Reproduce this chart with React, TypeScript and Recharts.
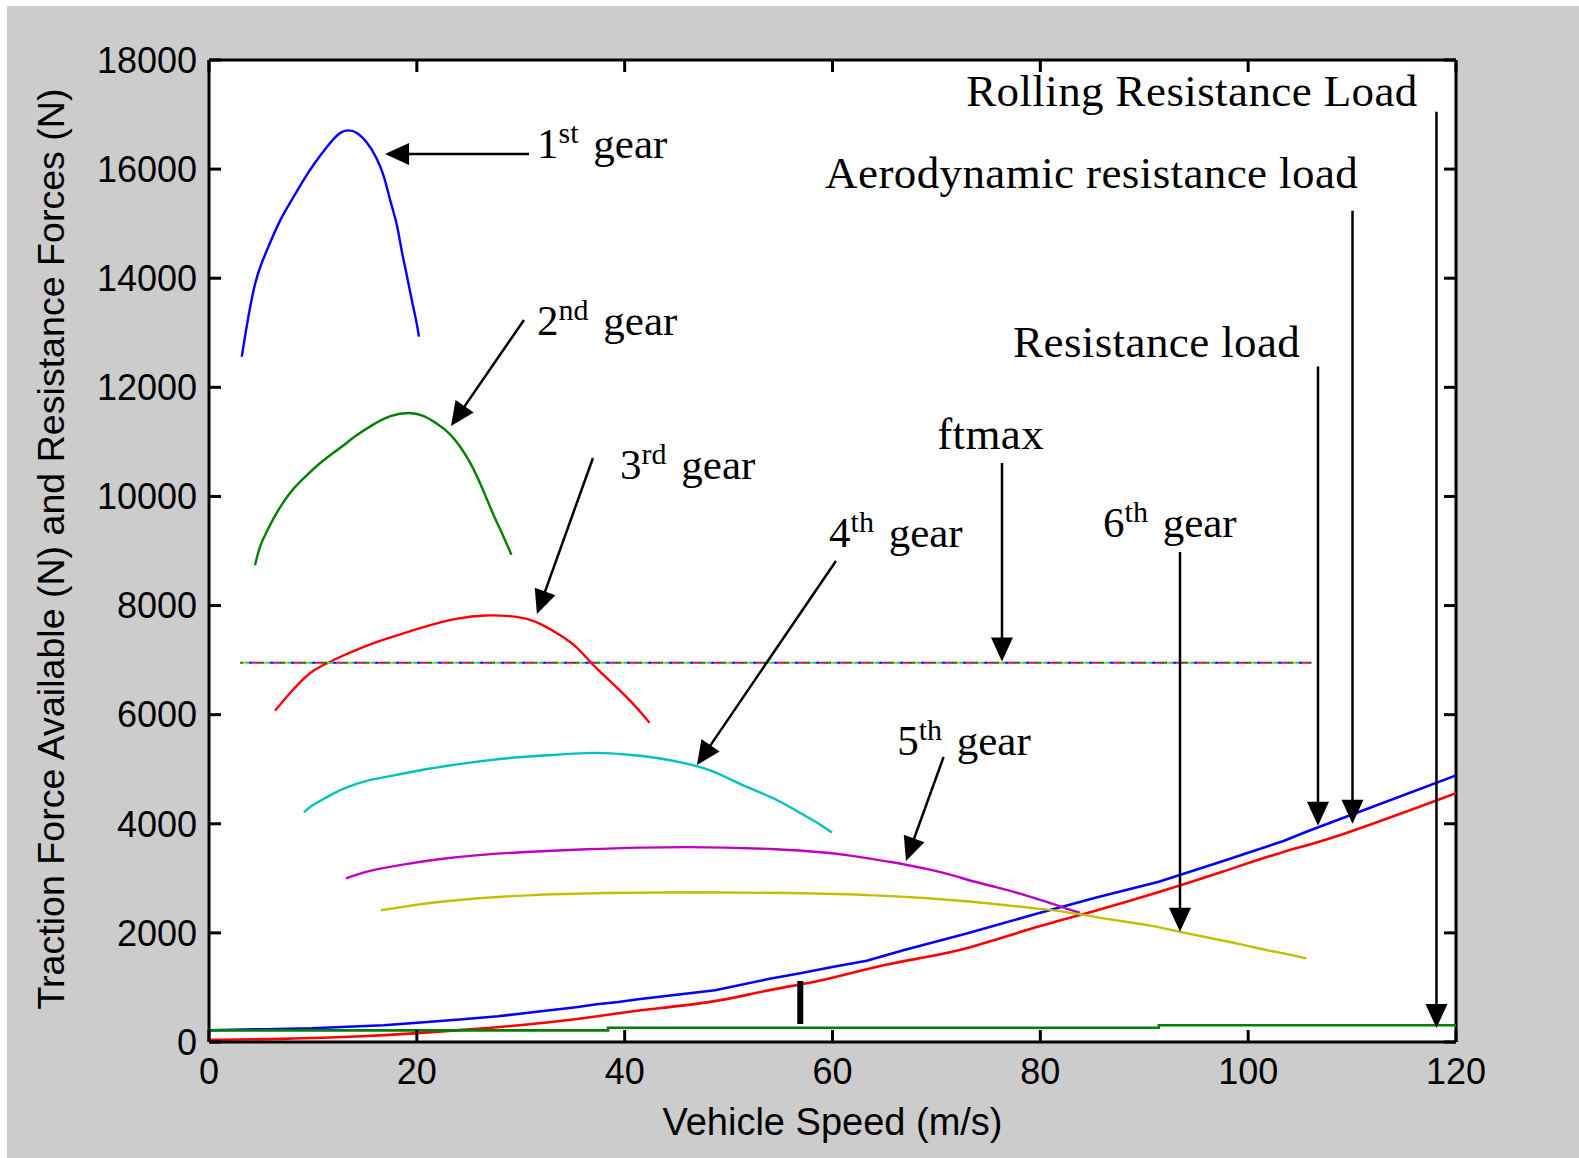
import React from 'react';
import { LineChart, Line, XAxis, YAxis, CartesianGrid, ReferenceLine, ReferenceDot } from 'recharts';

// ---------- axis ticks ----------
const xTicks = [0, 20, 40, 60, 80, 100, 120];
const yTicks = [0, 2000, 4000, 6000, 8000, 10000, 12000, 14000, 16000, 18000];

// ---------- gear traction curves (speed m/s, force N) ----------
const gear1Speed = [3.15, 3.46, 3.95, 4.43, 4.9, 5.87, 6.83, 7.8, 9.08, 10.04, 11.33, 12.6, 13.4, 14.2, 15.2, 16.1, 16.9, 17.4, 18.1, 18.5, 19.0, 19.5, 20.0, 20.2];
const gear1Force = [12560, 12930, 13480, 13910, 14210, 14650, 15070, 15380, 15800, 16080, 16410, 16690, 16720, 16690, 16500, 16230, 15860, 15430, 15010, 14520, 14100, 13600, 13180, 12930];

const gear2Speed = [4.43, 4.75, 5.07, 5.55, 6.19, 7.15, 8.11, 9.4, 11.0, 12.6, 14.2, 15.8, 17.4, 19.35, 20.6, 21.9, 23.2, 24.2, 25.1, 25.9, 26.7, 27.5, 28.3, 29.1];
const gear2Force = [8740, 8990, 9170, 9350, 9600, 9900, 10150, 10390, 10670, 10880, 11130, 11320, 11490, 11550, 11490, 11340, 11160, 10910, 10640, 10330, 9970, 9600, 9290, 8930];

const gear3Speed = [6.35, 7.48, 8.76, 10.04, 11.33, 12.6, 14.2, 15.8, 17.7, 19.7, 21.6, 23.8, 26.7, 29.0, 30.6, 32.2, 33.8, 35.4, 36.5, 37.6, 39.2, 40.8, 42.1, 42.4];
const gear3Force = [6070, 6330, 6600, 6820, 6940, 7060, 7190, 7310, 7430, 7550, 7660, 7770, 7830, 7810, 7770, 7640, 7460, 7250, 7000, 6790, 6510, 6210, 5920, 5850];

const gear4Speed = [9.14, 9.82, 11.17, 12.86, 15.2, 17.9, 21.3, 24.7, 28.7, 33.1, 37.2, 40.9, 43.2, 45.9, 48.3, 50.3, 52.4, 54.4, 56.4, 58.4, 59.95];
const gear4Force = [4210, 4330, 4470, 4650, 4800, 4890, 5020, 5110, 5210, 5260, 5320, 5260, 5210, 5110, 4990, 4800, 4620, 4470, 4250, 4040, 3840];

const gear5Speed = [13.18, 14.1, 15.9, 19.0, 20.9, 22.7, 25.8, 29.7, 35.5, 46.2, 55.5, 59.1, 61.4, 63.5, 65.4, 66.9, 69.3, 71.5, 73.6, 75.8, 77.6, 79.5, 81.3, 82.85, 83.8];
const gear5Force = [3000, 3061, 3165, 3263, 3318, 3367, 3428, 3477, 3532, 3593, 3532, 3477, 3428, 3367, 3305, 3257, 3165, 3061, 2938, 2836, 2744, 2634, 2530, 2420, 2370];

const gear6Speed = [16.55, 18.4, 20.2, 22.7, 25.8, 30.0, 38.0, 47.0, 56.0, 64.7, 69.3, 73.0, 75.8, 78.6, 81.6, 84.1, 85.9, 87.8, 90.5, 92.0, 93.6, 96.4, 99.4, 101.9, 104.3, 105.6];
const gear6Force = [2414, 2469, 2524, 2579, 2634, 2689, 2735, 2750, 2735, 2689, 2634, 2579, 2524, 2469, 2414, 2330, 2270, 2218, 2140, 2080, 2010, 1901, 1791, 1674, 1595, 1530];

// ---------- resistance loads ----------
const resSpeed = [0, 5.5, 9.9, 16.8, 20.7, 24.4, 27.8, 30.3, 32.8, 35.3, 37.3, 39.4, 41.3, 48.7, 53.7, 56.9, 60.1, 63.3, 66.9, 73.0, 79.2, 85.3, 91.4, 97.6, 103.4, 105.6, 120];
const resForce = [214, 235, 251, 306, 361, 416, 471, 526, 581, 636, 691, 733, 783, 948, 1149, 1259, 1380, 1490, 1686, 1992, 2328, 2645, 2938, 3318, 3684, 3855, 4887];

const aeroSpeed = [0, 6.5, 15.4, 20.3, 23.8, 26.9, 29.9, 32.8, 35.3, 37.4, 39.4, 41.3, 48.7, 52.4, 55.3, 58.5, 61.7, 65.2, 68.4, 73.0, 79.2, 85.3, 91.4, 97.6, 103.7, 107.5, 120];
const aeroForce = [40, 50, 104, 165, 214, 257, 306, 361, 416, 471, 526, 581, 728, 893, 1003, 1105, 1259, 1424, 1534, 1699, 2095, 2401, 2744, 3122, 3519, 3680, 4560];

const rollSpeed = [0, 38.4, 91.4, 120];
const rollForce = [214, 262, 306, 306];

const ftmaxSpeed = [3.0, 106.1];
const ftmaxForce = [6953, 6953];
const ftmaxColors = ['#008000', '#c0c000', '#00c0c0', '#0000ff', '#c000c0', '#ff0000', '#404040'];

// ---------- annotations ----------
const gearLabelNum = ['1', '2', '3', '4', '5', '6'];
const gearLabelSup = ['st', 'nd', 'rd', 'th', 'th', 'th'];
const gearLabelX = [31.57, 31.57, 39.56, 59.67, 66.22, 86.04];
const gearLabelY = [16209, 12959, 10320, 9073, 5261, 9257];

const textLabels = ['ftmax', 'Resistance load', 'Aerodynamic resistance load', 'Rolling Resistance Load'];
const textLabelX = [70.07, 77.38, 59.29, 72.86];
const textLabelY = [10870, 12565, 15645, 17157];

// arrows: tail -> tip
const arrowTailX = [30.79, 30.31, 36.95, 60.33, 70.69, 93.44, 76.31, 106.72, 110.04, 118.12];
const arrowTailY = [16277, 13234, 10705, 8817, 5224, 8982, 10613, 12382, 15238, 17052];
const arrowTipX = [16.94, 23.29, 31.56, 46.96, 67.07, 93.44, 76.31, 106.72, 110.04, 118.12];
const arrowTipY = [16277, 11291, 7845, 5077, 3318, 2022, 6973, 3965, 4001, 257];

const markBarX = 56.9;
const markBarY = [330, 1118];

const toPts = (s: number[], f: number[]) => s.map((v, i) => ({ v, f: f[i] }));

const gears = [
  { pts: toPts(gear1Speed, gear1Force), color: '#0000ff' },
  { pts: toPts(gear2Speed, gear2Force), color: '#008000' },
  { pts: toPts(gear3Speed, gear3Force), color: '#ff0000' },
  { pts: toPts(gear4Speed, gear4Force), color: '#00c0c0' },
  { pts: toPts(gear5Speed, gear5Force), color: '#c000c0' },
  { pts: toPts(gear6Speed, gear6Force), color: '#c0c000' },
];

const SERIF = '"Liberation Serif", "Times New Roman", serif';
const SANS = '"Liberation Sans", Arial, sans-serif';
const TICK_LEN = 12;

const ArrowShape = (props: any) => {
  const { x1, y1, x2, y2 } = props;
  const dx = x2 - x1;
  const dy = y2 - y1;
  const len = Math.hypot(dx, dy) || 1;
  const ux = dx / len;
  const uy = dy / len;
  const L = 24;
  const W = 11;
  const bx = x2 - ux * L;
  const by = y2 - uy * L;
  const px = -uy;
  const py = ux;
  return (
    <g>
      <line x1={x1} y1={y1} x2={bx + ux * 2} y2={by + uy * 2} stroke="#000" strokeWidth={2.5} />
      <polygon points={`${x2},${y2} ${bx + px * W},${by + py * W} ${bx - px * W},${by - py * W}`} fill="#000" />
    </g>
  );
};

const BarShape = (props: any) => {
  const { x1, y1, x2, y2 } = props;
  return <line x1={x1} y1={y1} x2={x2} y2={y2} stroke="#000" strokeWidth={6} />;
};

// inward tick at the top border for a vertical reference line
const TopTickShape = (props: any) => {
  const { x1, y1, y2 } = props;
  const top = Math.min(y1, y2);
  return <line x1={x1} y1={top} x2={x1} y2={top + TICK_LEN} stroke="#000" strokeWidth={3} />;
};

// inward tick at the right border for a horizontal reference line
const RightTickShape = (props: any) => {
  const { x1, x2, y1 } = props;
  const right = Math.max(x1, x2);
  return <line x1={right} y1={y1} x2={right - TICK_LEN} y2={y1} stroke="#000" strokeWidth={3} />;
};

const makeGearLabel = (num: string, sup: string) => (props: any) => (
  <text x={props.cx} y={props.cy} fontFamily={SERIF} fontSize={43} fill="#000" style={{ whiteSpace: 'pre' }}>
    <tspan>{num}</tspan>
    <tspan dy={-15} fontSize={30}>{sup}</tspan>
    <tspan dy={15} dx={4}>{' gear'}</tspan>
  </text>
);

const makeTextLabel = (t: string) => (props: any) => (
  <text x={props.cx} y={props.cy} fontFamily={SERIF} fontSize={45} letterSpacing={0.4} fill="#000" style={{ whiteSpace: 'pre' }}>
    {t}
  </text>
);

const XLabel = (props: any) => {
  const vb = props.viewBox || {};
  return (
    <text x={vb.x + vb.width / 2} y={vb.y + 93} textAnchor="middle" fontFamily={SANS} fontSize={38} fill="#000">
      Vehicle Speed (m/s)
    </text>
  );
};

const YLabel = (props: any) => {
  const vb = props.viewBox || {};
  const cx = 57;
  const cy = vb.y + vb.height / 2 - 2;
  return (
    <text x={cx} y={cy} transform={`rotate(-90 ${cx} ${cy})`} textAnchor="middle" fontFamily={SANS} fontSize={37.6} fill="#000">
      Traction Force Available (N) and Resistance Forces (N)
    </text>
  );
};

const axisStroke = { stroke: '#000', strokeWidth: 3 };
const tickStyle = { fill: '#000', fontSize: 36, fontFamily: SANS };

export default function App() {
  return (
    <div style={{ position: 'absolute', left: 7, top: 6, width: 1572, height: 1152, background: '#cccccc' }}>
      <LineChart width={1572} height={1152} margin={{ top: 54, right: 123, bottom: 0, left: 0 }}>
        <CartesianGrid horizontal={false} vertical={false} fill="#ffffff" fillOpacity={1} />
        <XAxis
          dataKey="v"
          type="number"
          domain={[0, 120]}
          ticks={xTicks}
          interval={0}
          allowDataOverflow
          height={116}
          tick={tickStyle}
          tickSize={-TICK_LEN}
          tickMargin={28}
          tickLine={axisStroke}
          axisLine={axisStroke}
          label={{ content: XLabel }}
        />
        <YAxis
          type="number"
          domain={[0, 18000]}
          ticks={yTicks}
          interval={0}
          allowDataOverflow
          width={202}
          tick={tickStyle}
          tickSize={-TICK_LEN}
          tickMargin={24}
          tickLine={axisStroke}
          axisLine={axisStroke}
          label={{ content: YLabel }}
        />

        {/* box: top and right borders with inward ticks */}
        <ReferenceLine y={18000} stroke="#000" strokeWidth={3} ifOverflow="visible" />
        <ReferenceLine x={120} stroke="#000" strokeWidth={3} ifOverflow="visible" />
        {xTicks.map((t) => (
          <ReferenceLine key={'tt' + t} x={t} shape={TopTickShape} ifOverflow="visible" />
        ))}
        {yTicks.map((t) => (
          <ReferenceLine key={'rt' + t} y={t} shape={RightTickShape} ifOverflow="visible" />
        ))}

        <Line data={toPts(resSpeed, resForce)} dataKey="f" type="linear" stroke="#0000ff" strokeWidth={2.6} dot={false} isAnimationActive={false} />
        <Line data={toPts(aeroSpeed, aeroForce)} dataKey="f" type="basis" stroke="#ff0000" strokeWidth={2.6} dot={false} isAnimationActive={false} />
        <Line data={toPts(rollSpeed, rollForce)} dataKey="f" type="stepAfter" stroke="#008000" strokeWidth={2.6} dot={false} isAnimationActive={false} />

        {gears.map((g, i) => (
          <Line key={'g' + i} data={g.pts} dataKey="f" type="basis" stroke={g.color} strokeWidth={2.4} dot={false} isAnimationActive={false} />
        ))}

        {ftmaxColors.map((c, i) => (
          <Line
            key={'ft' + i}
            data={toPts(ftmaxSpeed, ftmaxForce)}
            dataKey="f"
            type="linear"
            stroke={c}
            strokeWidth={2}
            strokeDasharray="3 18"
            strokeDashoffset={-3 * i}
            dot={false}
            isAnimationActive={false}
          />
        ))}

        {arrowTailX.map((x, i) => (
          <ReferenceLine
            key={'a' + i}
            segment={[{ x, y: arrowTailY[i] }, { x: arrowTipX[i], y: arrowTipY[i] }]}
            shape={ArrowShape}
            ifOverflow="visible"
          />
        ))}
        <ReferenceLine
          segment={[{ x: markBarX, y: markBarY[0] }, { x: markBarX, y: markBarY[1] }]}
          shape={BarShape}
          ifOverflow="visible"
        />

        {gearLabelNum.map((n, i) => (
          <ReferenceDot key={'gl' + i} x={gearLabelX[i]} y={gearLabelY[i]} r={0} ifOverflow="visible" shape={makeGearLabel(n, gearLabelSup[i])} />
        ))}
        {textLabels.map((t, i) => (
          <ReferenceDot key={'tl' + i} x={textLabelX[i]} y={textLabelY[i]} r={0} ifOverflow="visible" shape={makeTextLabel(t)} />
        ))}
      </LineChart>
    </div>
  );
}
